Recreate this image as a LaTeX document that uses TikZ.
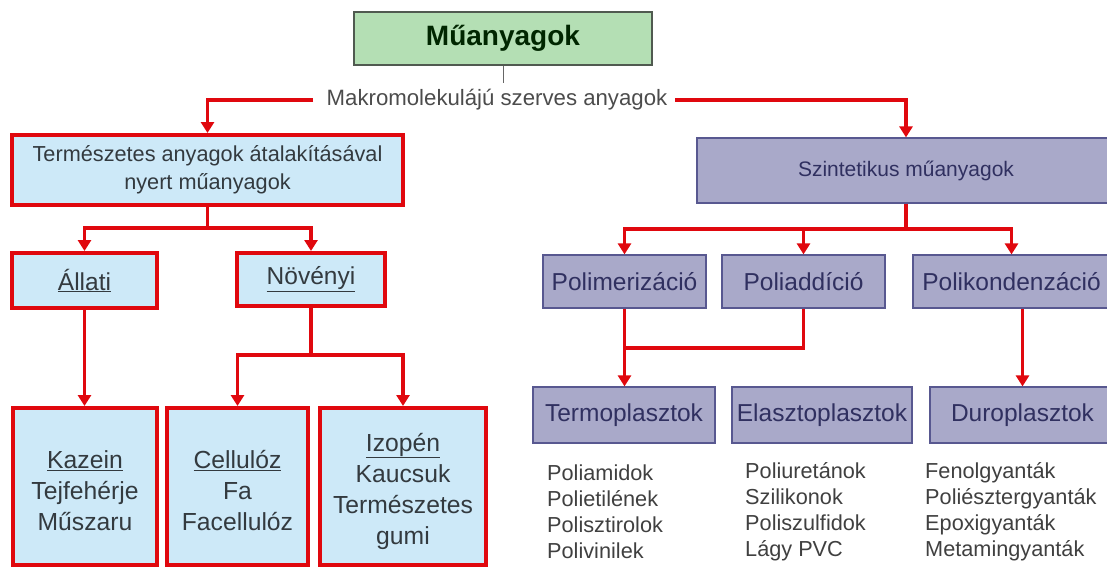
\documentclass[tikz,border=0pt]{standalone}
\usepackage{fontspec}
\setmainfont{Liberation Sans}
\usetikzlibrary{arrows.meta}
\definecolor{grn}{HTML}{B4DFB4}
\definecolor{grnb}{HTML}{505A50}
\definecolor{lblue}{HTML}{CDE9F8}
\definecolor{lav}{HTML}{A9A9C9}
\definecolor{lavb}{HTML}{585890}
\definecolor{rd}{HTML}{E0080E}
\definecolor{txt}{HTML}{333A3F}
\definecolor{navy}{HTML}{303060}
\begin{document}
\begin{tikzpicture}[x=1pt,y=-1pt,
 greenbox/.style={draw=grnb, line width=1.2pt, fill=grn, text=black!85!green, inner sep=0pt,
   font=\fontsize{28}{32}\selectfont\bfseries},
 redbox/.style={draw=rd, line width=4pt, fill=lblue, text=txt, align=center, inner sep=0pt},
 boxtext/.style={text=txt, align=center, inner sep=0pt, font=\fontsize{24.7}{31}\selectfont},
 lavbox/.style={draw=lavb, line width=1.2pt, fill=lav, text=navy, inner sep=0pt,
   font=\fontsize{24.5}{30}\selectfont},
 rl/.style={draw=rd, line width=3.5pt},
 arr/.style={rl, -{Triangle[width=13pt,length=11pt]}},
 lst/.style={anchor=west, align=left, text=black!75, inner sep=0pt,
   font=\fontsize{21.7}{26}\selectfont},
 mid/.style={font=\fontsize{21.7}{28}\selectfont},
 sub/.style={font=\fontsize{24.5}{28}\selectfont}]
\useasboundingbox (0,0) rectangle (1107,567);
\clip (0,0) rectangle (1107,567);
\fill[white] (0,0) rectangle (1107,567);

% top
\node[greenbox, minimum width=298pt, minimum height=53pt] (top) at (503,38.5) {Műanyagok};
\node[text=black!70, inner sep=0pt, font=\fontsize{22.2}{26}\selectfont] (mak) at (497,100) {Makromolekulájú szerves anyagok};
\coordinate (g) at (503,83);
\coordinate (ml) at (313,100);
\coordinate (mr) at (675,100);

% left branch
\node[redbox, mid, minimum width=391pt, minimum height=70pt] (term) at (207.5,170)
  {Természetes anyagok átalakításával\\nyert műanyagok};
\node[redbox, sub, minimum width=145pt, minimum height=55pt] (allati) at (84.5,280.5) {\underline{Állati}};
\node[redbox, sub, minimum width=148pt, minimum height=53pt] (novenyi) at (311,279.5) {\underline{Növényi}};
\node[redbox, minimum width=144pt, minimum height=157pt] (kazein) at (85,486.5) {};
\node[redbox, minimum width=141pt, minimum height=157pt] (cell) at (237.5,486.5) {};
\node[redbox, minimum width=166pt, minimum height=157pt] (izo) at (403,486.5) {};
\node[boxtext] (kazeinT) at (85,491) {\underline{Kazein}\\Tejfehérje\\Műszaru};
\node[boxtext] (cellT) at (237.5,491) {\underline{Cellulóz}\\Fa\\Facellulóz};
\node[boxtext] (izoT) at (403,491) {\underline{Izopén}\\Kaucsuk\\Természetes\\gumi};

% right branch
\node[lavbox, font=\fontsize{21}{26}\selectfont, minimum width=418pt, minimum height=65pt] (szint) at (906,170.5) {Szintetikus műanyagok};
\node[lavbox, minimum width=163pt, minimum height=53pt] (polim) at (624.5,281.5) {Polimerizáció};
\node[lavbox, minimum width=163pt, minimum height=53pt] (poliadd) at (803.5,281.5) {Poliaddíció};
\node[lavbox, minimum width=197pt, minimum height=53pt] (polik) at (1011.5,281.5) {Polikondenzáció};
\node[lavbox, minimum width=182pt, minimum height=56pt] (termo) at (624,415) {Termoplasztok};
\node[lavbox, minimum width=180pt, minimum height=56pt] (elaszt) at (822,415) {Elasztoplasztok};
\node[lavbox, minimum width=185pt, minimum height=56pt] (duro) at (1022.5,415) {Duroplasztok};

\node[lst] (l1) at (547,511.5) {Poliamidok\\Polietilének\\Polisztirolok\\Polivinilek};
\node[lst] (l2) at (745,511.5) {Poliuretánok\\Szilikonok\\Poliszulfidok\\Lágy PVC};
\node[lst] (l3) at (925,511.5) {Fenolgyanták\\Poliésztergyanták\\Epoxigyanták\\Metamingyanták};

% connectors
\draw[black!60, line width=1pt] (top.south) -- (g);
\draw[arr] (ml) -| (term.north);
\draw[arr] (mr) -| (szint.north);

\coordinate (j1) at (207.5,228);
\draw[rl] (term.south) -- (j1);
\draw[arr] (j1) -| (allati.north);
\draw[arr] (j1) -| (novenyi.north);
\draw[arr] (allati.south) -- (allati.south |- kazein.north);
\coordinate (j2) at (311,355);
\draw[rl] (novenyi.south) -- (j2);
\draw[arr] (j2) -| (cell.north);
\draw[arr] (j2) -| (izo.north);

\coordinate (j3) at (906,229);
\draw[rl] (szint.south) -- (j3);
\draw[arr] (j3) -| (polim.north);
\draw[arr] (j3) -| (poliadd.north);
\draw[arr] (j3) -| (polik.north);
\coordinate (j4) at (624.5,348);
\draw[rl] (poliadd.south) |- (j4);
\draw[arr] (polim.south) -- (polim.south |- termo.north);
\draw[arr] (polik.south -| duro.north) -- (duro.north);
\end{tikzpicture}
\end{document}
